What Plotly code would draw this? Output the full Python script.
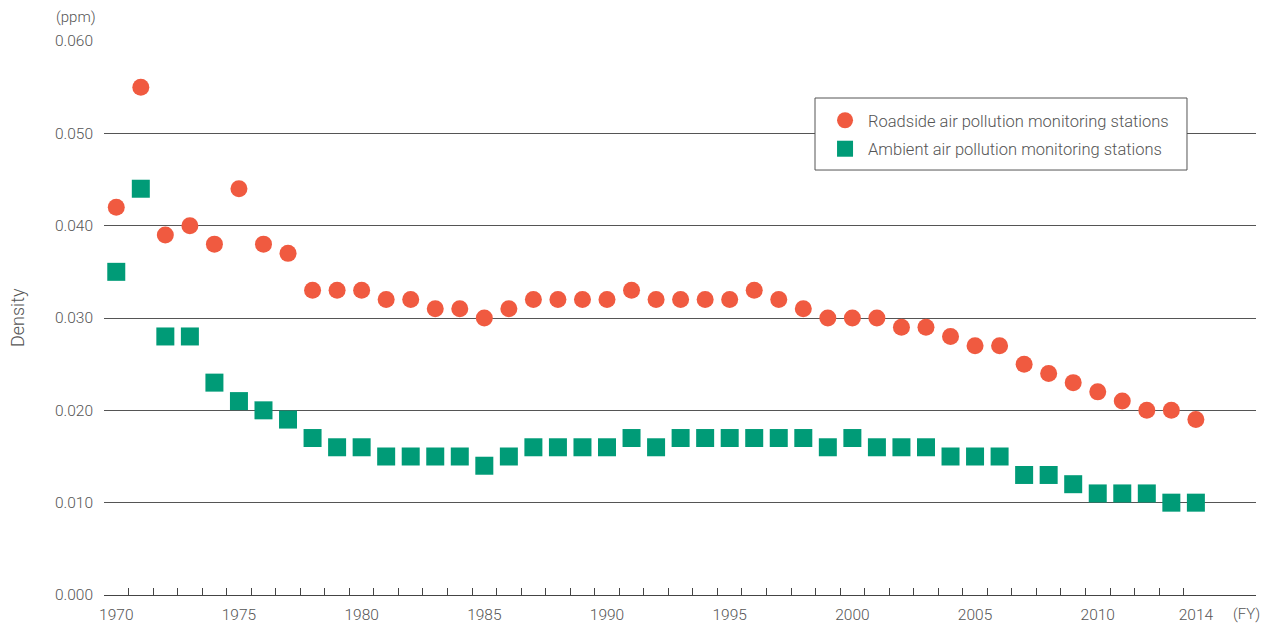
import plotly.graph_objects as go

years = list(range(1970, 2015))
roadside = [0.042, 0.055, 0.039, 0.040, 0.038, 0.044, 0.038, 0.037, 0.033, 0.033,
            0.033, 0.032, 0.032, 0.031, 0.031, 0.030, 0.031, 0.032, 0.032, 0.032,
            0.032, 0.033, 0.032, 0.032, 0.032, 0.032, 0.033, 0.032, 0.031, 0.030,
            0.030, 0.030, 0.029, 0.029, 0.028, 0.027, 0.027, 0.025, 0.024, 0.023,
            0.022, 0.021, 0.020, 0.020, 0.019]
ambient = [0.035, 0.044, 0.028, 0.028, 0.023, 0.021, 0.020, 0.019, 0.017, 0.016,
           0.016, 0.015, 0.015, 0.015, 0.015, 0.014, 0.015, 0.016, 0.016, 0.016,
           0.016, 0.017, 0.016, 0.017, 0.017, 0.017, 0.017, 0.017, 0.017, 0.016,
           0.017, 0.016, 0.016, 0.016, 0.015, 0.015, 0.015, 0.013, 0.013, 0.012,
           0.011, 0.011, 0.011, 0.010, 0.010]
x_tick_vals = [1970, 1975, 1980, 1985, 1990, 1995, 2000, 2005, 2010, 2014]
x_tick_text = ["1970", "1975", "1980", "1985", "1990", "1995", "2000", "2005", "2010", "2014"]
y_tick_vals = [0.0, 0.01, 0.02, 0.03, 0.04, 0.05, 0.06]

FONT = "Roboto"
TXT = "#555555"
GRID = "#555555"

fig = go.Figure()
fig.add_trace(go.Scatter(
    x=years, y=roadside, mode="markers", name="Roadside air pollution monitoring stations",
    legendgroup="a",
    marker=dict(symbol="circle", size=17, color="#F05A40", line=dict(width=0))))
fig.add_trace(go.Scatter(
    x=years, y=ambient, mode="markers", name="Ambient air pollution monitoring stations",
    legendgroup="b",
    marker=dict(symbol="square", size=18, color="#009B77", line=dict(width=0))))

minor_vals = [y + 0.5 for y in years[:-1]]

fig.update_layout(
    width=1268, height=625,
    margin=dict(l=96, r=20, t=33, b=38),
    paper_bgcolor="white", plot_bgcolor="white",
    font=dict(family=FONT, size=15, color=TXT, weight=300),
    showlegend=True,
    legend=dict(x=0.6233, y=0.888, xanchor="left", yanchor="top",
                borderwidth=0, bgcolor="rgba(0,0,0,0)",
                font=dict(family=FONT, size=16.5, color=TXT, weight=300),
                itemsizing="trace", itemwidth=36,
                traceorder="grouped", tracegroupgap=4),
    xaxis=dict(range=[1969.5, 2016.45], tickmode="array", tickvals=x_tick_vals,
               ticktext=x_tick_text, ticks="", showgrid=False, zeroline=False,
               showline=True, linecolor="#444444", linewidth=1, ticklabelstandoff=5,
               automargin=False,
               tickfont=dict(family=FONT, size=15.5, color=TXT, weight=300),
               minor=dict(tickmode="array", tickvals=minor_vals, ticks="inside",
                          ticklen=7, tickcolor="#444444", tickwidth=1, showgrid=False)),
    yaxis=dict(range=[0, 0.06], tickmode="array", tickvals=y_tick_vals,
               tickformat=".3f", showgrid=True, gridcolor=GRID, gridwidth=1,
               zeroline=False, showline=False, ticks="", ticklen=0, ticklabelstandoff=10,
               automargin=False,
               tickfont=dict(family=FONT, size=15.5, color=TXT, weight=300)),
)

# legend frame
fig.add_shape(type="rect", xref="paper", yref="paper",
              x0=0.6172, x1=0.9401, y0=0.7671, y1=0.8971,
              line=dict(color="#555555", width=1), fillcolor="white", layer="above")

fig.add_annotation(text="(ppm)", xref="paper", yref="paper", x=-0.005, y=1.0,
                   yshift=24, xanchor="right", yanchor="middle", showarrow=False,
                   font=dict(family=FONT, size=15, color=TXT, weight=300))
fig.add_annotation(text="Density", xref="paper", yref="paper", x=-0.0755, y=0.5,
                   textangle=-90, xanchor="center", yanchor="middle", showarrow=False,
                   font=dict(family=FONT, size=18, color=TXT, weight=300))
fig.add_annotation(text="(FY)", xref="paper", yref="paper", x=1.005, y=0,
                   yshift=-19, xanchor="right", yanchor="middle", showarrow=False,
                   font=dict(family=FONT, size=15, color=TXT, weight=300))

fig.write_html("out.html")
